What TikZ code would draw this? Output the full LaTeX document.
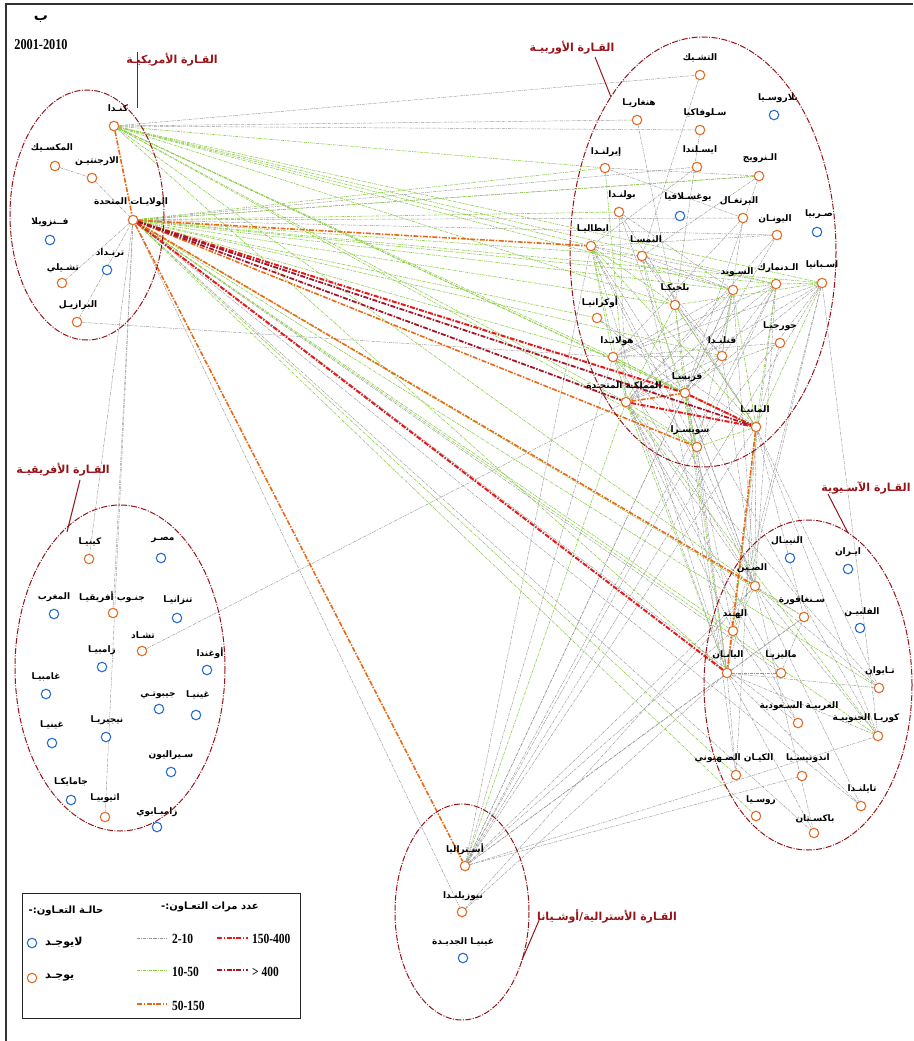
\documentclass[tikz,border=0pt]{standalone}
\usepackage{fontspec}
\setmainfont{Liberation Serif}
\newfontfamily\arabicfont[Script=Arabic,BoldFont={DejaVu Sans Bold}]{DejaVu Sans}
\TeXXeTstate=1
\pgfdeclarelayer{bg}
\pgfsetlayers{bg,main}
\definecolor{orN}{RGB}{228,110,40}
\definecolor{blN}{RGB}{40,110,210}
\definecolor{ctR}{RGB}{150,20,25}
\definecolor{gyL}{RGB}{150,150,150}
\definecolor{grL}{RGB}{140,205,70}
\definecolor{orL}{RGB}{235,105,20}
\definecolor{rdL}{RGB}{230,25,25}
\definecolor{drL}{RGB}{165,20,40}
\tikzset{
 ndy/.style={circle,draw=orN,line width=1.1pt,fill=white,minimum size=9.5pt,inner sep=0pt},
 ndn/.style={circle,draw=blN,line width=1.1pt,fill=white,minimum size=9.5pt,inner sep=0pt},
 lb/.style={font=\arabicfont\bfseries\fontsize{9}{10}\selectfont,inner sep=0pt,text=black},
 cont/.style={draw=ctR,line width=1pt,dash pattern=on 6pt off 1.5pt on 1pt off 1.5pt},
 ctl/.style={font=\arabicfont\bfseries\fontsize{11}{12}\selectfont,text=ctR,inner sep=0pt},
 lead/.style={draw=ctR,line width=1pt},
 lgt/.style={font=\arabicfont\bfseries\fontsize{10}{11}\selectfont,inner sep=0pt},
 e2/.style={draw=gyL,line width=0.45pt,dash pattern=on 3pt off 1pt on 0.8pt off 1pt},
 e10/.style={draw=grL,line width=0.6pt,dash pattern=on 3pt off 1pt on 0.8pt off 1pt},
 e50/.style={draw=orL,line width=1.6pt,dash pattern=on 5pt off 1.5pt on 1.5pt off 1.5pt},
 e150/.style={draw=rdL,line width=2pt,dash pattern=on 5pt off 1.5pt on 1.5pt off 1.5pt},
 e400/.style={draw=drL,line width=1.8pt,dash pattern=on 5pt off 1.5pt on 1.5pt off 1.5pt},
 num/.style={font=\fontsize{14}{14}\selectfont\bfseries,inner sep=0pt,anchor=west,xscale=0.82},
}
\newcommand{\cty}[7]{\node[#1] (#2) at (#3,#4) {}; \node[lb] (#2-l) at (#5,#6) {#7};}
\begin{document}
\begin{tikzpicture}[x=1pt,y=-1pt]
\useasboundingbox (0,0) rectangle (913,1041);
% ---------- America
\cty{ndy}{ca}{114}{126}{118}{108}{\beginR كنـدا\endR}
\cty{ndy}{mx}{55}{166}{52}{148}{\beginR المكسـيك\endR}
\cty{ndy}{arg}{92}{178}{97}{161}{\beginR الارجنتيـن\endR}
\cty{ndy}{us}{133}{220}{131}{202}{\beginR الولايـات المتحدة\endR}
\cty{ndn}{ve}{50}{240}{50}{222}{\beginR فــنزويلا\endR}
\cty{ndn}{tt}{107}{270}{110}{253}{\beginR ترنـداد\endR}
\cty{ndy}{cl}{62}{283}{63}{268}{\beginR تشـيلي\endR}
\cty{ndy}{br}{77}{322}{78}{305}{\beginR البرازيـل\endR}
% ---------- Europe
\cty{ndy}{cz}{700}{75}{700}{58}{\beginR التشـيك\endR}
\cty{ndy}{hu}{637}{120}{639}{103}{\beginR هنغاريـا\endR}
\cty{ndy}{sk}{700}{130}{705}{113}{\beginR سـلوفاكيا\endR}
\cty{ndy}{is}{697}{167}{700}{150}{\beginR ايسـلندا\endR}
\cty{ndy}{ie}{605}{168}{606}{152}{\beginR إيرلنـدا\endR}
\cty{ndn}{by}{774}{115}{778}{98}{\beginR بلاروسـيا\endR}
\cty{ndy}{no}{759}{176}{760}{158}{\beginR الـنرويج\endR}
\cty{ndy}{pt}{743}{218}{739}{201}{\beginR البرتغـال\endR}
\cty{ndy}{gr}{777}{235}{775}{219}{\beginR اليونـان\endR}
\cty{ndn}{rs}{817}{232}{819}{214}{\beginR صـربيا\endR}
\cty{ndy}{pl}{619}{212}{622}{195}{\beginR بولنـدا\endR}
\cty{ndn}{yu}{680}{216}{688}{197}{\beginR يوغسـلافيا\endR}
\cty{ndy}{it}{591}{246}{593}{229}{\beginR ايطاليـا\endR}
\cty{ndy}{at}{642}{256}{646}{239}{\beginR النمسـا\endR}
\cty{ndy}{se}{733}{290}{737}{272}{\beginR السـويد\endR}
\cty{ndy}{dk}{776}{284}{778}{268}{\beginR الـدنمارك\endR}
\cty{ndy}{es}{822}{283}{822}{265}{\beginR اسـبانيا\endR}
\cty{ndy}{be}{675}{305}{675}{288}{\beginR بلجيكـا\endR}
\cty{ndy}{ua}{597}{318}{600}{302}{\beginR أوكرانيـا\endR}
\cty{ndy}{ge}{780}{343}{780}{326}{\beginR جورجيـا\endR}
\cty{ndy}{fi}{722}{356}{722}{340}{\beginR فنلنـدا\endR}
\cty{ndy}{nl}{613}{357}{617}{341}{\beginR هولانـدا\endR}
\cty{ndy}{fr}{685}{393}{687}{377}{\beginR فرنسـا\endR}
\cty{ndy}{uk}{626}{402}{624}{385}{\beginR المملكـة المتحـدة\endR}
\cty{ndy}{de}{756}{427}{755}{410}{\beginR المانيـا\endR}
\cty{ndy}{ch}{697}{447}{690}{430}{\beginR سويسـرا\endR}
% ---------- Asia
\cty{ndn}{np}{790}{558}{787}{541}{\beginR النيبـال\endR}
\cty{ndn}{ir}{848}{569}{848}{552}{\beginR ايـران\endR}
\cty{ndy}{cn}{755}{586}{752}{568}{\beginR الصـين\endR}
\cty{ndy}{sg}{804}{617}{802}{600}{\beginR سـنغافورة\endR}
\cty{ndn}{ph}{860}{628}{862}{612}{\beginR الفلبيـن\endR}
\cty{ndy}{in}{733}{631}{735}{614}{\beginR الهـند\endR}
\cty{ndy}{jp}{727}{673}{728}{655}{\beginR اليابـان\endR}
\cty{ndy}{my}{781}{673}{781}{655}{\beginR ماليزيـا\endR}
\cty{ndy}{tw}{879}{688}{880}{671}{\beginR تـايوان\endR}
\cty{ndy}{sa}{798}{723}{799}{706}{\beginR العربيـة السـعودية\endR}
\cty{ndy}{kr}{878}{736}{866}{718}{\beginR كوريـا الجنوبيـة\endR}
\cty{ndy}{il}{736}{775}{734}{758}{\beginR الكيـان الصـهيوني\endR}
\cty{ndy}{id}{802}{776}{808}{758}{\beginR اندونيسـيا\endR}
\cty{ndy}{th}{861}{806}{862}{789}{\beginR تايلنـدا\endR}
\cty{ndy}{ru}{756}{816}{761}{800}{\beginR روسـيا\endR}
\cty{ndy}{pk}{814}{833}{815}{819}{\beginR باكسـتان\endR}
% ---------- Africa
\cty{ndy}{ke}{89}{559}{90}{542}{\beginR كينيـا\endR}
\cty{ndn}{eg}{161}{558}{163}{540}{\beginR مصـر\endR}
\cty{ndn}{ma}{54}{614}{54}{597}{\beginR المغرب\endR}
\cty{ndy}{za}{113}{613}{112}{597}{\beginR جنـوب أفريقيـا\endR}
\cty{ndn}{tz}{177}{618}{178}{600}{\beginR تنزانيـا\endR}
\cty{ndy}{td}{142}{651}{143}{635}{\beginR تشـاد\endR}
\cty{ndn}{zm}{102}{667}{102}{650}{\beginR زامبيـا\endR}
\cty{ndn}{ug}{207}{670}{210}{653}{\beginR أوغندا\endR}
\cty{ndn}{gm}{46}{694}{46}{677}{\beginR غامبيـا\endR}
\cty{ndn}{dj}{159}{709}{158}{695}{\beginR جيبوتـي\endR}
\cty{ndn}{gn2}{196}{715}{198}{695}{\beginR غينيـا\endR}
\cty{ndn}{ng}{106}{737}{107}{720}{\beginR نيجيريـا\endR}
\cty{ndn}{gn}{52}{743}{52}{725}{\beginR غينيـا\endR}
\cty{ndn}{sl}{171}{772}{171}{755}{\beginR سـيراليون\endR}
\cty{ndn}{jm}{71}{800}{71}{782}{\beginR جامايكـا\endR}
\cty{ndy}{et}{105}{817}{105}{798}{\beginR اثيوبيـا\endR}
\cty{ndn}{zw}{157}{827}{157}{812}{\beginR زامبـابوي\endR}
% ---------- Oceania
\cty{ndy}{au}{465}{866}{465}{849}{\beginR أسـتراليا\endR}
\cty{ndy}{nz}{462}{912}{463}{896}{\beginR نيوزيلنـدا\endR}
\cty{ndn}{pg}{463}{958}{463}{942}{\beginR غينيـا الجديـدة\endR}
% ---------- continents
\draw[cont] (87,215) ellipse [x radius=77, y radius=125];
\draw[cont] (703,252) ellipse [x radius=133, y radius=215];
\draw[cont] (808,685) ellipse [x radius=104, y radius=165];
\draw[cont] (120,668) ellipse [x radius=105, y radius=163];
\draw[cont] (462,912) ellipse [x radius=67, y radius=108];
\node[ctl] (amT) at (172,60) {\beginR القـارة الأمريكيـة\endR};
\node[ctl] (euT) at (572,48) {\beginR القـارة الأوربيـة\endR};
\node[ctl] (asT) at (866,488) {\beginR القـارة الآسـيوية\endR};
\node[ctl] (afT) at (63,470) {\beginR القـارة الأفريقيـة\endR};
\node[ctl] (ocT) at (607,916) {\beginR القـارة الأسترالية/أوشـيانا\endR};
\coordinate (amP) at (137,108);
\coordinate (amQ) at (137,52);
\coordinate (euP) at (611,97);
\coordinate (euQ) at (595,57);
\coordinate (asP) at (848,533);
\coordinate (asQ) at (828,494);
\coordinate (afP) at (67,532);
\coordinate (afQ) at (80,480);
\coordinate (ocP) at (522,960);
\coordinate (ocQ) at (540,918);
\draw[lead] (amQ) -- (amP);
\draw[lead] (euQ) -- (euP);
\draw[lead] (asQ) -- (asP);
\draw[lead] (afQ) -- (afP);
\draw[lead] (ocQ) -- (ocP);
% ---------- title
\node[font=\arabicfont\bfseries\fontsize{14}{14}\selectfont,inner sep=0pt] (tb) at (41,19) {\beginR ب\endR};
\node[font=\fontsize{15}{15}\selectfont\bfseries,inner sep=0pt,xscale=0.82] (ty) at (41,45) {2001-2010};
% ---------- legend
\draw[line width=1pt,black!85] (22,893) rectangle (300,1018);
\node[lgt] (lgA) at (66,911) {\beginR حالـة التعـاون:-\endR};
\node[lgt] (lgB) at (210,907) {\beginR عدد مرات التعـاون:-\endR};
\node[ndn] (lgn) at (32,943) {};
\node[ndy] (lgy) at (32,978) {};
\node[lgt,anchor=west,font=\arabicfont\bfseries\fontsize{11}{12}\selectfont] (lgnT) at (45,943) {\beginR لايوجـد\endR};
\node[lgt,anchor=west,font=\arabicfont\bfseries\fontsize{11}{12}\selectfont] (lgyT) at (45,978) {\beginR يوجـد\endR};
\draw[e2] (137,938) -- (167,938);
\draw[e10] (137,970) -- (167,970);
\draw[e50] (137,1004) -- (167,1004);
\draw[e150] (217,938) -- (248,938);
\draw[e400] (217,970) -- (248,970);
\node[num] (n1) at (172,939) {2-10};
\node[num] (n2) at (172,972) {10-50};
\node[num] (n3) at (172,1006) {50-150};
\node[num] (n4) at (252,939) {150-400};
\node[num] (n5) at (252,972) {> 400};
% ---------- connectors
\begin{pgfonlayer}{bg}
\fill[white] (0,0) rectangle (913,1041);
\draw[line width=1.2pt,black!80] (6,1041) -- (6,4) -- (913,4);
\foreach \a/\b in {mx/arg,arg/us,cl/us,br/us,ca/hu,ca/sk,us/is,us/no,us/gr,us/pt,ca/cz,
  cz/at,hu/be,ie/pt,no/at,no/fr,pt/fi,pt/nl,gr/it,gr/uk,gr/fr,pl/de,pl/se,pl/uk,it/se,it/dk,it/fr,it/ch,
  at/de,at/se,at/fi,se/nl,se/uk,se/fr,se/ch,dk/fi,dk/nl,dk/uk,dk/ch,es/fr,es/nl,es/uk,es/ch,be/fi,
  ua/de,ua/fr,ge/uk,ge/nl,ge/de,fi/nl,fi/uk,fi/fr,nl/ch,is/it,no/ie,sk/be,
  uk/cn,fr/cn,it/jp,nl/cn,ch/jp,se/cn,fr/in,uk/in,de/kr,it/cn,be/jp,dk/cn,es/jp,fi/cn,uk/sa,de/il,fr/il,
  nl/jp,es/kr,ch/cn,at/jp,pl/cn,de/tw,uk/tw,fr/kr,de/sg,uk/my,es/in,dk/jp,
  jp/tw,jp/kr,jp/th,jp/sg,jp/my,cn/kr,cn/sg,cn/tw,in/sa,in/jp,my/sg,jp/pk,cn/pk,jp/il,cn/th,
  us/nz,au/de,au/fr,au/nl,au/ch,au/se,au/it,au/cn,au/jp,au/in,au/sg,au/id,nz/cn,nz/jp,au/kr,au/dk,au/es,
  us/ke,us/za,us/et,td/uk,br/nl,us/th,us/pk,us/sa,us/my}
  \draw[e2] (\a) -- (\b);
\foreach \a/\b in {us/ie,us/pl,us/at,us/se,us/dk,us/es,us/be,us/nl,us/fi,us/no,us/in,us/kr,us/il,us/sg,us/tw,us/ru,us/ua,
  ca/ie,ca/se,ca/dk,ca/nl,ca/fr,ca/de,ca/uk,ca/es,ca/it,ca/be,ca/ch,ca/jp,ca/cn,
  it/be,it/nl,it/de,it/uk,se/dk,se/de,dk/es,dk/de,es/de,es/be,nl/de,nl/fr,be/fr,be/de,be/uk,fr/ch,de/ch,uk/ch,
  ie/uk,at/ch,se/fi,
  de/cn,uk/jp,fr/jp,uk/au,de/in,uk/kr,cn/in}
  \draw[e10] (\a) -- (\b);
\foreach \a/\b in {ca/us,us/au,us/it,us/ch,us/cn,uk/fr,de/jp}
  \draw[e50] (\a) -- (\b);
\foreach \a/\b in {us/fr,us/jp,uk/de,fr/de}
  \draw[e150] (\a) -- (\b);
\foreach \a/\b in {us/uk,us/de}
  \draw[e400] (\a) -- (\b);
\end{pgfonlayer}
\end{tikzpicture}
\end{document}
